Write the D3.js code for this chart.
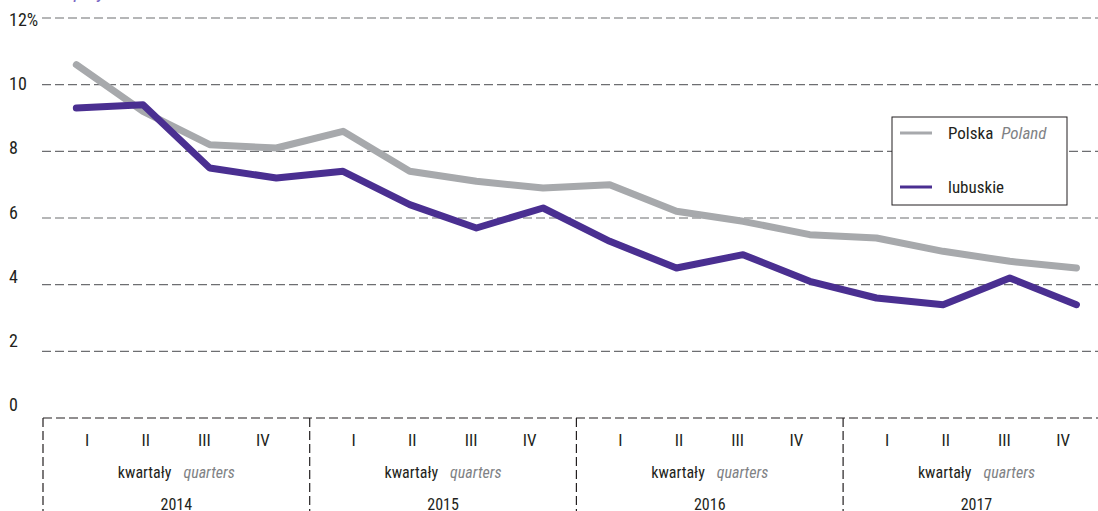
<!DOCTYPE html>
<html>
<head>
<meta charset="utf-8">
<script src="https://cdn.jsdelivr.net/npm/d3@7"></script>
<style>
  body { margin: 0; background: #fff; }
  svg { display: block; font-family: "Liberation Sans Narrow", "Roboto Condensed", "DejaVu Sans Condensed", sans-serif; }
</style>
</head>
<body>
<svg id="chart"></svg>
<script>
// Data
const years = ['2014', '2015', '2016', '2017'];
const quarters = ['I', 'II', 'III', 'IV'];
const polska = [10.6, 9.2, 8.2, 8.1, 8.6, 7.4, 7.1, 6.9, 7.0, 6.2, 5.9, 5.5, 5.4, 5.0, 4.7, 4.5];
const lubuskie = [9.3, 9.4, 7.5, 7.2, 7.4, 6.4, 5.7, 6.3, 5.3, 4.5, 4.9, 4.1, 3.6, 3.4, 4.2, 3.4];
const yTicks = [0, 2, 4, 6, 8, 10, 12];

const width = 1098;
const height = 511;
const plotLeft = 43;
const plotTop = 18;
const plotBottom = 418;

const svg = d3.select('#chart')
  .attr('width', width)
  .attr('height', height);

// Scales
const periods = d3.range(polska.length);
const xScale = d3.scaleBand()
  .domain(periods)
  .range([plotLeft, plotLeft + 266.7 * 4]);

const yearScale = d3.scaleBand()
  .domain(years)
  .range([plotLeft, plotLeft + 266.7 * 4]);

const qScale = d3.scalePoint()
  .domain(quarters)
  .range([44, 220]);

const yScale = d3.scaleLinear()
  .domain([0, 12])
  .range([plotBottom, plotTop]);

// tick labels sit on their own slightly tighter scale in the original
const yLabelScale = d3.scaleLinear()
  .domain([0, 12])
  .range([405, 19.5]);

// Title (cut off at the top)
svg.append('text')
  .attr('x', 30)
  .attr('y', -2)
  .attr('font-size', 20)
  .attr('font-style', 'italic')
  .attr('fill', '#7a68c4')
  .text('Unemployment rate');

// Grid lines
svg.append('g')
  .selectAll('line')
  .data(yTicks.filter(d => d > 0))
  .enter().append('line')
  .attr('x1', plotLeft - 1)
  .attr('x2', width)
  .attr('y1', d => yScale(d))
  .attr('y2', d => yScale(d))
  .attr('stroke', '#6d6e71')
  .attr('stroke-width', 1.2)
  .attr('stroke-dasharray', '9,4');

// Y labels
svg.append('g')
  .selectAll('text')
  .data(yTicks)
  .enter().append('text')
  .attr('x', 9)
  .attr('y', d => yLabelScale(d))
  .attr('dy', '0.36em')
  .attr('font-size', 18)
  .attr('fill', '#231f20')
  .text(d => d === 12 ? '12%' : d);

// Bottom category box
svg.append('line')
  .attr('x1', plotLeft)
  .attr('x2', width)
  .attr('y1', plotBottom)
  .attr('y2', plotBottom)
  .attr('stroke', '#231f20')
  .attr('stroke-width', 1.2)
  .attr('stroke-dasharray', '9,4');

svg.append('g')
  .selectAll('line')
  .data(years)
  .enter().append('line')
  .attr('x1', d => yearScale(d))
  .attr('x2', d => yearScale(d))
  .attr('y1', plotBottom)
  .attr('y2', height)
  .attr('stroke', '#231f20')
  .attr('stroke-width', 1.2)
  .attr('stroke-dasharray', '9,4');

const yearG = svg.append('g')
  .selectAll('g')
  .data(years)
  .enter().append('g')
  .attr('transform', d => `translate(${yearScale(d)}, 0)`);

yearG.selectAll('text.q')
  .data(quarters)
  .enter().append('text')
  .attr('class', 'q')
  .attr('x', d => qScale(d))
  .attr('y', 446)
  .attr('text-anchor', 'middle')
  .attr('font-size', 17)
  .attr('fill', '#231f20')
  .text(d => d);

const kw = yearG.append('text')
  .attr('x', yearScale.bandwidth() / 2)
  .attr('y', 478)
  .attr('text-anchor', 'middle')
  .attr('font-size', 16);
kw.append('tspan').attr('fill', '#231f20').text('kwartały');
kw.append('tspan').attr('dx', 12).attr('fill', '#808285').attr('font-style', 'italic').text('quarters');

yearG.append('text')
  .attr('x', yearScale.bandwidth() / 2)
  .attr('y', 510)
  .attr('text-anchor', 'middle')
  .attr('font-size', 16)
  .attr('fill', '#231f20')
  .text(d => d);

// Lines
const line = d3.line()
  .x((d, i) => xScale(i) + xScale.bandwidth() / 2)
  .y(d => yScale(d));

svg.append('path')
  .datum(polska)
  .attr('fill', 'none')
  .attr('stroke', '#a7a9ac')
  .attr('stroke-width', 7)
  .attr('stroke-linecap', 'round')
  .attr('stroke-linejoin', 'round')
  .attr('d', line);

svg.append('path')
  .datum(lubuskie)
  .attr('fill', 'none')
  .attr('stroke', '#4a2f91')
  .attr('stroke-width', 7)
  .attr('stroke-linecap', 'round')
  .attr('stroke-linejoin', 'round')
  .attr('d', line);

// Legend
const legend = svg.append('g').attr('transform', 'translate(892, 117)');
legend.append('rect')
  .attr('width', 175)
  .attr('height', 88)
  .attr('fill', '#fff')
  .attr('stroke', '#231f20')
  .attr('stroke-width', 1);

const legendItems = [
  { color: '#a7a9ac', pl: 'Polska', en: 'Poland', y: 16 },
  { color: '#4a2f91', pl: 'lubuskie', en: '', y: 70 }
];
legendItems.forEach(it => {
  legend.append('line')
    .attr('x1', 8).attr('x2', 40)
    .attr('y1', it.y).attr('y2', it.y)
    .attr('stroke', it.color)
    .attr('stroke-width', 3);
  const t = legend.append('text')
    .attr('x', 56)
    .attr('y', it.y + 6)
    .attr('font-size', 17);
  t.append('tspan').attr('fill', '#231f20').text(it.pl);
  if (it.en) {
    t.append('tspan').attr('dx', 8).attr('fill', '#808285').attr('font-style', 'italic').text(it.en);
  }
});
</script>
</body>
</html>
